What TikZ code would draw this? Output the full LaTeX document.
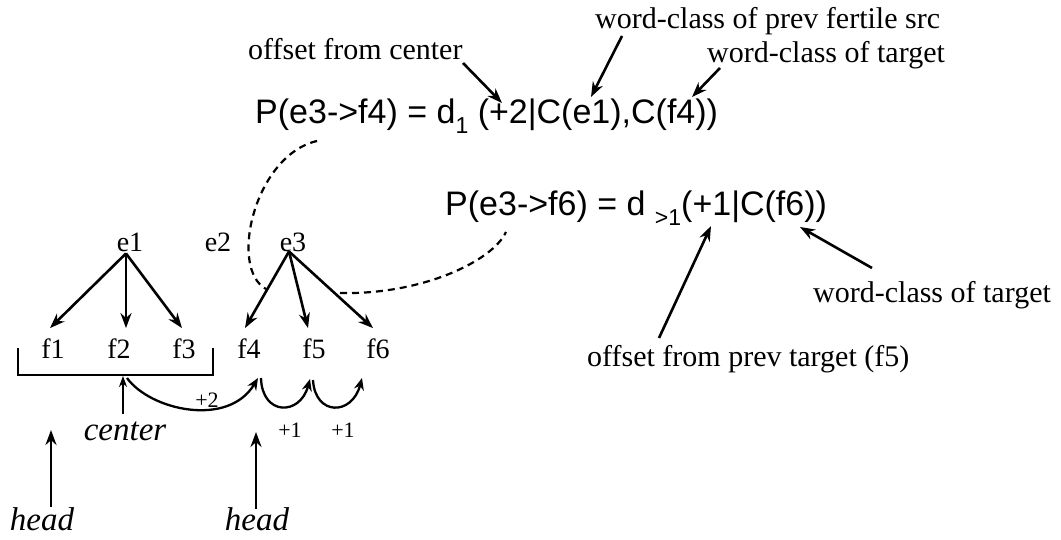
\documentclass[tikz,border=0pt]{standalone}
\usepackage{fontspec}
\setmainfont{Liberation Serif}
\newfontfamily\arialf{Liberation Sans}
\usetikzlibrary{arrows.meta}
\newcommand{\lowsub}[1]{\raisebox{-0.28em}{\fontsize{23}{23}\selectfont #1}}
\begin{document}
\begin{tikzpicture}[x=1pt,y=-1pt,
  lbl/.style={font=\fontsize{30}{36}\selectfont, inner sep=0pt, anchor=base west},
  wrd/.style={font=\fontsize{28}{32}\selectfont, inner sep=0pt, anchor=base},
  frm/.style={font=\arialf\fontsize{34}{40}\selectfont, inner sep=0pt, anchor=base west},
  ital/.style={font=\itshape\fontsize{33}{38}\selectfont, inner sep=0pt, anchor=base},
  small/.style={font=\fontsize{22}{26}\selectfont, inner sep=0pt, anchor=base},
  arr/.style={line width=2.6pt, -{Stealth[length=15pt,width=11pt]}},
  curv/.style={line width=2.3pt, -{Stealth[length=12pt,width=10pt]}},
  dsh/.style={line width=2.2pt, dash pattern=on 7pt off 5pt},
  brk/.style={line width=2pt}]
\useasboundingbox (0,0) rectangle (1061,540);

% formulas
\node[frm] (p1) at (255,124) {P(e3->f4) = d\lowsub{1} (+2|C(e1),C(f4))};
\node[frm] (p2) at (445,216) {P(e3->f6) = d \lowsub{>1}(+1|C(f6))};

% labels
\node[lbl] (lc) at (248,60) {offset from center};
\node[lbl] (lp) at (595,29) {word-class of prev fertile src};
\node[lbl] (lt) at (707,63) {word-class of target};
\node[lbl] (lt2) at (813,303) {word-class of target};
\node[lbl] (lo) at (587,366) {offset from prev target (f5)};

% label arrows
\coordinate (a1s) at (463,63);  \coordinate (a1e) at (502,103);
\coordinate (a2s) at (622,36);  \coordinate (a2e) at (591,97);
\coordinate (a3s) at (720,68);  \coordinate (a3e) at (692,97);
\coordinate (a4s) at (659,338); \coordinate (a4e) at (711,226);
\coordinate (a5s) at (872,268); \coordinate (a5e) at (800,227);
\draw[arr] (a1s) -- (a1e);
\draw[arr] (a2s) -- (a2e);
\draw[arr] (a3s) -- (a3e);
\draw[arr] (a4s) -- (a4e);
\draw[arr] (a5s) -- (a5e);

% words
\node[wrd] (e1) at (130,252) {e1};
\node[wrd] (e2) at (218,252) {e2};
\node[wrd] (e3) at (293,252) {e3};
\node[wrd] (f1) at (53,358) {f1};
\node[wrd] (f2) at (119,358) {f2};
\node[wrd] (f3) at (184,358) {f3};
\node[wrd] (f4) at (249,358) {f4};
\node[wrd] (f5) at (314,358) {f5};
\node[wrd] (f6) at (378,358) {f6};

\draw[arr] ([xshift=-4pt,yshift=-1pt]e1.south) -- ([xshift=-3pt,yshift=10pt]f1.north);
\draw[arr] ([xshift=-4pt,yshift=-1pt]e1.south) -- ([xshift=7pt,yshift=10pt]f2.north);
\draw[arr] ([xshift=-4pt,yshift=-1pt]e1.south) -- ([xshift=-2pt,yshift=10pt]f3.north);
\draw[arr] ([xshift=-4pt,yshift=1pt]e3.south) -- ([xshift=-4pt,yshift=10pt]f4.north);
\draw[arr] ([xshift=-4pt,yshift=1pt]e3.south) -- ([xshift=-6pt,yshift=10pt]f5.north);
\draw[arr] ([xshift=-4pt,yshift=1pt]e3.south) -- ([xshift=-5pt,yshift=10pt]f6.north);

% bracket
\coordinate (b1) at (18,348); \coordinate (b2) at (18,375);
\coordinate (b3) at (213,375); \coordinate (b4) at (213,348);
\draw[brk] (b1) -- (b2) -- (b3) -- (b4);

% center
\node[ital] (cen) at (125,440) {center};
\coordinate (cs) at (123,414); \coordinate (ce) at (123,376);
\draw[line width=1.8pt, -{Stealth[length=11pt,width=8pt]}] (cs) -- (ce);

% offset curves
\coordinate (c0) at (127,378);
\coordinate (c4) at (258,378);
\coordinate (c4b) at (261,378);
\coordinate (c5) at (310,379);
\coordinate (c5b) at (313,380);
\coordinate (c6) at (362,378);
\draw[curv] (c0) .. controls (150,410) and (228,428) .. (c4);
\draw[curv] (c4b) .. controls (262,416) and (300,416) .. (c5);
\draw[curv] (c5b) .. controls (315,416) and (352,416) .. (c6);
\node[small] (n2) at (207,407) {+2};
\node[small] (n1a) at (290,437) {+1};
\node[small] (n1b) at (343,437) {+1};

% heads
\node[ital] (h1) at (42,530) {head};
\node[ital] (h2) at (257,530) {head};
\coordinate (h1s) at (51,507); \coordinate (h1e) at (51,430);
\coordinate (h2s) at (256,509); \coordinate (h2e) at (256,432);
\draw[arr] (h1s) -- (h1e);
\draw[arr] (h2s) -- (h2e);

% dashed links
\coordinate (d1s) at (317,141); \coordinate (d1e) at (266,289);
\coordinate (d2s) at (506,232); \coordinate (d2e) at (340,293);
\draw[dsh] (d1s) .. controls (255,155) and (228,268) .. (d1e);
\draw[dsh] (d2e) .. controls (420,295) and (492,262) .. (d2s);
\end{tikzpicture}
\end{document}
